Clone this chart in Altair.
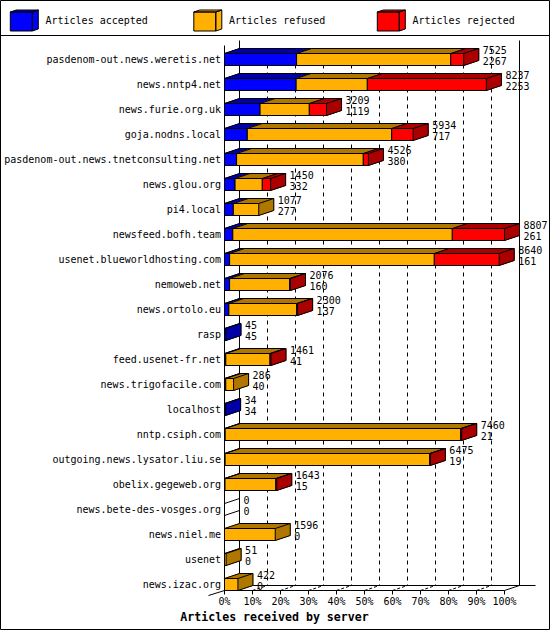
import altair as alt
import pandas as pd

servers = [
    "pasdenom-out.news.weretis.net", "news.nntp4.net", "news.furie.org.uk",
    "goja.nodns.local", "pasdenom-out.news.tnetconsulting.net", "news.glou.org",
    "pi4.local", "newsfeed.bofh.team", "usenet.blueworldhosting.com",
    "nemoweb.net", "news.ortolo.eu", "rasp", "feed.usenet-fr.net",
    "news.trigofacile.com", "localhost", "nntp.csiph.com",
    "outgoing.news.lysator.liu.se", "obelix.gegeweb.org",
    "news.bete-des-vosges.org", "news.niel.me", "usenet", "news.izac.org",
]
offered = [7525, 8237, 3209, 5934, 4526, 1450, 1077, 8807, 8640, 2076, 2300,
           45, 1461, 286, 34, 7460, 6475, 1643, 0, 1596, 51, 422]
accepted = [2267, 2253, 1119, 717, 380, 332, 277, 261, 161, 160, 137,
            45, 41, 40, 34, 21, 19, 15, 0, 0, 0, 0]
refused = [4848, 2239, 1549, 4542, 3986, 857, 800, 6904, 6438, 1891, 2134,
           0, 1390, 246, 0, 7408, 6435, 1600, 0, 1596, 51, 422]
rejected = [410, 3745, 541, 675, 160, 261, 0, 1642, 2041, 25, 29,
            0, 30, 0, 0, 31, 21, 28, 0, 0, 0, 0]

segments = ["Articles accepted", "Articles refused", "Articles rejected"]
sides = ["accepted (side)", "refused (side)", "rejected (side)"]
front_colors = ["#0000FF", "#FFB000", "#FF0000"]
side_colors = ["#0000A8", "#B07800", "#AA0000"]
grid_ticks = [0.1, 0.2, 0.3, 0.4, 0.5, 0.6, 0.7, 0.8, 0.9]
axis_ticks = [0, 0.1, 0.2, 0.3, 0.4, 0.5, 0.6, 0.7, 0.8, 0.9, 1.0]

FONT = "DejaVu Sans Mono"
DX, DY, H = 15, 5, 12  # 3D depth (pixels) and bar face height

max_total = max(offered)
rows = []
for i, name in enumerate(servers):
    start = 0
    for seg, side, val in zip(segments, sides, (accepted[i], refused[i], rejected[i])):
        if val > 0:
            rows.append({"server": name, "segment": seg, "side": side,
                         "start": start / max_total,
                         "end": (start + val) / max_total})
        start += val
seg_df = pd.DataFrame(rows)
tot_df = pd.DataFrame({"server": servers, "offered": offered,
                       "accepted": accepted,
                       "end": [o / max_total for o in offered]})
tick_df = pd.DataFrame({"t": grid_ticks})
one = pd.DataFrame({"d": [0]})

y_axis = alt.Axis(title=None, domain=False, ticks=False, grid=False,
                  labelFont=FONT, labelFontSize=10, labelColor="black",
                  labelPadding=4, labelLimit=400, zindex=2)
x_axis = alt.Axis(values=axis_ticks, format=".0%", grid=False,
                  domainColor="black", tickColor="black", tickSize=4,
                  labelFont=FONT, labelFontSize=10, labelColor="black",
                  labelPadding=2, labelFlush=False, labelOverlap=False,
                  translate=0, zindex=2,
                  title="Articles received by server", titleFont=FONT,
                  titleFontSize=11.6, titleFontWeight="bold", titleColor="black",
                  titleX=50, titleY=27, titleAlign="center",
                  titleBaseline="middle")
x_scale = alt.Scale(domain=[0, 1], nice=False, zero=True)
y_scale = alt.Scale(domain=servers, paddingInner=0.52, paddingOuter=0)


def X(field):
    return alt.X(field, scale=x_scale, axis=x_axis)


def Y():
    return alt.Y("server:N", scale=y_scale, axis=y_axis)


layers = []

# frame and separator
layers.append(alt.Chart(one).mark_rect(filled=False, fill="transparent", stroke="black",
                                       strokeWidth=1).encode(
    x=alt.value(-224), x2=alt.value(325), y=alt.value(-53), y2=alt.value(576)))
layers.append(alt.Chart(one).mark_rule(color="black", strokeWidth=1).encode(
    x=alt.value(-224), x2=alt.value(325), y=alt.value(-18)))

# back walls
layers.append(alt.Chart(one).mark_rule(color="black").encode(
    x=alt.value(15), y=alt.value(-13), y2=alt.value(532)))
layers.append(alt.Chart(one).mark_rule(color="black").encode(
    x=alt.value(295), y=alt.value(-13), y2=alt.value(532)))
# dashed grid on back wall
layers.append(alt.Chart(tick_df).mark_rule(color="black", strokeDash=[4, 4], xOffset=DX).encode(
    x=X("t:Q"), y=alt.value(-5), y2=alt.value(532)))
# floor
layers.append(alt.Chart(one).mark_rule(color="black").encode(
    x=alt.value(15), x2=alt.value(311), y=alt.value(532)))
layers.append(alt.Chart(one).mark_rule(color="black").encode(
    x=alt.value(280), x2=alt.value(295), y=alt.value(537), y2=alt.value(532)))
layers.append(alt.Chart(one).mark_rule(color="black").encode(
    x=alt.value(-16), x2=alt.value(0), y=alt.value(542), y2=alt.value(537)))
layers.append(alt.Chart(tick_df).mark_rule(color="black", strokeDash=[3, 2], x2Offset=DX).encode(
    x=X("t:Q"), x2="t:Q", y=alt.value(537), y2=alt.value(532)))
# front vertical line
layers.append(alt.Chart(one).mark_rule(color="black").encode(
    x=alt.value(0), y=alt.value(-8), y2=alt.value(537)))

# extrusion (top and side faces)
N = 15
for k in range(N, 0, -1):
    ox = k * DX / N
    oy = -k * DY / N
    layers.append(alt.Chart(seg_df).mark_bar(
        xOffset=ox, x2Offset=ox, yOffset=oy, y2Offset=oy, strokeWidth=1, opacity=1).encode(
        x=X("start:Q"), x2="end:Q", y=Y(),
        fill=alt.Fill("side:N", scale=alt.Scale(domain=sides, range=side_colors),
                      legend=None),
        stroke=alt.Stroke("side:N", scale=alt.Scale(domain=sides, range=side_colors),
                          legend=None)))

# outlines of top / side faces
layers.append(alt.Chart(seg_df).mark_rule(
    color="black", strokeWidth=1, xOffset=DX, x2Offset=DX, yOffset=-(H / 2 + DY)).encode(
    x=X("start:Q"), x2="end:Q", y=Y()))
layers.append(alt.Chart(seg_df).mark_point(
    shape=f"M0,{-H/2}L{DX},{-H/2-DY}", size=4, filled=False, opacity=1,
    color="black", strokeWidth=1).encode(x=X("start:Q"), y=Y()))
layers.append(alt.Chart(tot_df).mark_point(
    shape=f"M0,{-H/2}L{DX},{-H/2-DY}L{DX},{H/2-DY}L0,{H/2}", size=4, filled=False,
    opacity=1, color="black", strokeWidth=1).encode(x=X("end:Q"), y=Y()))

legend_path = ("M-1,-0.607L0.571,-0.607L0.571,0.75L-1,0.75Z "
               "M-1,-0.607L-0.571,-0.75L1,-0.75L0.571,-0.607Z "
               "M0.571,-0.607L1,-0.75L1,0.607L0.571,0.75Z")

# front faces
layers.append(alt.Chart(seg_df).mark_bar(stroke="black", strokeWidth=1, opacity=1).encode(
    x=X("start:Q"), x2="end:Q", y=Y(),
    color=alt.Color("segment:N", scale=alt.Scale(domain=segments, range=front_colors),
                    legend=alt.Legend(
                        title=None, orient="none", direction="horizontal",
                        legendX=-214.7, legendY=-47.5, padding=0, zindex=2,
                        gridAlign="all",
                        symbolType=legend_path, symbolSize=784,
                        symbolStrokeColor="black", symbolStrokeWidth=1,
                        symbolOpacity=1,
                        labelFont=FONT, labelFontSize=10, labelColor="black",
                        labelOffset=6.7, columnPadding=42.5, labelLimit=300))))

# value labels
layers.append(alt.Chart(tot_df).mark_text(
    align="left", baseline="middle", dx=19, dy=-9, font=FONT, fontSize=10,
    color="black").encode(x=X("end:Q"), y=Y(), text=alt.Text("offered:Q", format="d")))
layers.append(alt.Chart(tot_df).mark_text(
    align="left", baseline="middle", dx=19, dy=2, font=FONT, fontSize=10,
    color="black").encode(x=X("end:Q"), y=Y(), text=alt.Text("accepted:Q", format="d")))

chart = alt.layer(*layers).properties(
    width=280, height=537,
    autosize=alt.AutoSizeParams(type="none"),
    padding={"left": 224.5, "top": 53.5, "right": 45.5, "bottom": 39.5},
    background="white",
).configure_view(strokeWidth=0)

chart.save("out.html", embed_options={"renderer": "svg", "actions": False})
